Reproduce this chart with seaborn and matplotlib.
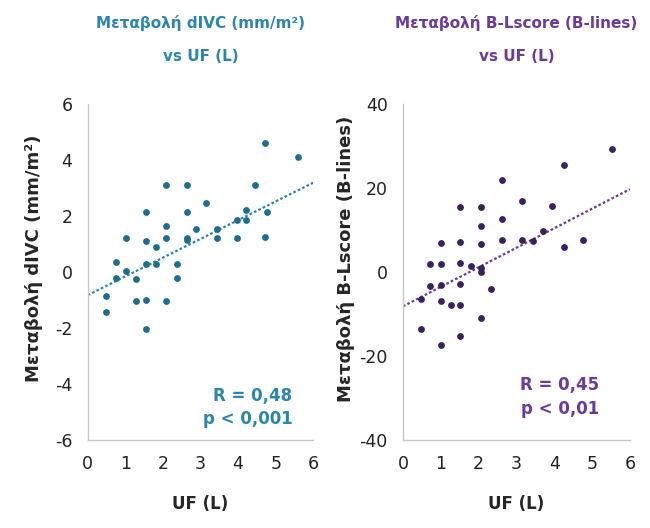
import numpy as np
import pandas as pd
import matplotlib
matplotlib.use("Agg")
import matplotlib.pyplot as plt
import seaborn as sns

# left panel: change in dIVC vs UF
uf_ivc = [4.71, 5.58, 2.09, 2.64, 4.44, 3.14, 1.56, 2.64, 4.20, 4.76,
          2.09, 2.89, 3.44, 3.96, 4.20, 1.02, 1.56, 2.09, 2.64, 3.44,
          3.96, 4.71, 1.82, 0.76, 1.56, 1.82, 2.37, 0.76, 1.29, 2.37,
          0.49, 1.29, 1.56, 2.09, 0.49, 1.56, 1.02, 2.64]
divc = [4.6, 4.1, 3.1, 3.1, 3.1, 2.45, 2.15, 2.15, 2.2, 2.15,
        1.65, 1.55, 1.55, 1.85, 1.85, 1.2, 1.1, 1.2, 1.15, 1.2,
        1.2, 1.25, 0.9, 0.35, 0.3, 0.3, 0.3, -0.2, -0.25, -0.2,
        -0.85, -1.05, -1.0, -1.05, -1.45, -2.05, 0.05, 1.2]
# trend line: (intercept, slope)
trend_ivc = (-0.83, 0.67)

# right panel: change in B-lines vs UF
uf_bl = [5.54, 4.26, 2.61, 3.16, 1.52, 2.07, 3.94, 2.07, 2.61, 1.00,
         1.52, 2.07, 2.61, 3.16, 3.45, 3.70, 4.26, 4.77, 0.72, 1.00,
         1.52, 1.81, 2.07, 2.07, 0.72, 1.00, 1.52, 2.33, 0.48, 1.00,
         1.26, 1.52, 2.07, 0.48, 1.52, 1.00]
blines = [29.2, 25.4, 21.9, 16.8, 15.5, 15.5, 15.7, 11.0, 12.5, 6.8,
          7.2, 6.7, 7.7, 7.5, 7.4, 9.8, 6.0, 7.6, 1.9, 2.0,
          2.2, 1.4, 1.0, 0.0, -3.3, -3.0, -2.9, -4.1, -6.5, -6.9,
          -7.8, -7.8, -11.0, -13.6, -15.2, -17.3]
trend_bl = (-8.2, 4.65)

stats_ivc = "R = 0,48\np < 0,001"
stats_bl = "R = 0,45\np < 0,01"

sns.set_style("white")
plt.rcParams["font.family"] = ["DejaVu Sans"]
plt.rcParams["axes.unicode_minus"] = False

fig = plt.figure(figsize=(6.5, 5.28), dpi=100)
ax1 = fig.add_axes([0.135, 0.167, 0.347, 0.636])
ax2 = fig.add_axes([0.620, 0.167, 0.349, 0.636])

panels = [
    (ax1, uf_ivc, divc, trend_ivc, "#1c6e8c", "#2a86ad", "Μεταβολή dIVC (mm/m²)\nvs UF (L)",
     "Μεταβολή dIVC (mm/m²)", (-6, 6), [-6, -4, -2, 0, 2, 4, 6], stats_ivc, (5.45, -4.1), -0.20),
    (ax2, uf_bl, blines, trend_bl, "#3b1f5e", "#6a3a9c", "Μεταβολή B-Lscore (B-lines)\nvs UF (L)",
     "Μεταβολή B-Lscore (B-lines)", (-40, 40), [-40, -20, 0, 20, 40], stats_bl, (5.2, -24.8), -0.21),
]

for ax, x, y, trend, dot_col, txt_col, title, ylabel, ylim, yticks, stats, pos, lab_x in panels:
    df = pd.DataFrame({"x": x, "y": y})
    sns.scatterplot(data=df, x="x", y="y", ax=ax, s=24, color=dot_col,
                    linewidth=0, zorder=3)
    ax.axline((0, trend[0]), slope=trend[1], color=txt_col, lw=1.6,
              linestyle=(0, (1.2, 1.0)), zorder=2)
    ax.set_xlim(0, 6)
    ax.set_ylim(*ylim)
    ax.set_xticks(range(0, 7))
    ax.set_yticks(yticks)
    ax.set_xlabel("UF (L)", fontsize=12, fontweight="bold", labelpad=16)
    ax.set_ylabel(ylabel, fontsize=13, fontweight="bold")
    ax.yaxis.set_label_coords(lab_x, 0.54)
    ax.set_title(title, fontsize=11, fontweight="bold", color=txt_col,
                 linespacing=2.5, pad=31)
    sns.despine(ax=ax)
    for s in ["left", "bottom"]:
        ax.spines[s].set_color("#c8c8c8")
        ax.spines[s].set_linewidth(1.0)
    ax.tick_params(axis="both", direction="out", length=4, width=1,
                   color="#c8c8c8", labelsize=12.5, labelcolor="#222222", pad=7)
    ax.text(pos[0], pos[1], stats, ha="right", va="top", ma="right", fontsize=12,
            fontweight="bold", color=txt_col, linespacing=1.4)

fig.savefig("out.png", dpi=100, facecolor="white")
